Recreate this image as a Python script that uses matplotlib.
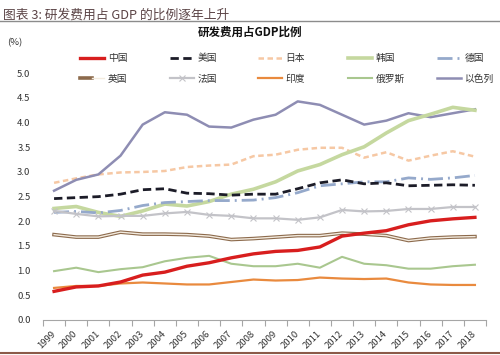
import numpy as np
import matplotlib.pyplot as plt
from matplotlib.lines import Line2D
from matplotlib.legend_handler import HandlerTuple

plt.rcParams['font.family'] = ['Noto Sans CJK SC', 'DejaVu Sans']

years = [str(y) for y in range(1999, 2019)]

china   = [0.58, 0.67, 0.69, 0.77, 0.91, 0.97, 1.09, 1.16, 1.26, 1.34,
           1.39, 1.41, 1.48, 1.70, 1.76, 1.81, 1.93, 2.01, 2.05, 2.08]
usa     = [2.46, 2.48, 2.50, 2.55, 2.64, 2.66, 2.57, 2.56, 2.53, 2.55,
           2.55, 2.66, 2.78, 2.84, 2.76, 2.78, 2.72, 2.73, 2.74, 2.73]
japan   = [2.78, 2.87, 2.95, 2.99, 3.00, 3.02, 3.10, 3.13, 3.15, 3.32,
           3.35, 3.45, 3.49, 3.49, 3.29, 3.40, 3.23, 3.33, 3.42, 3.31]
korea   = [2.26, 2.30, 2.18, 2.10, 2.21, 2.35, 2.31, 2.40, 2.55, 2.65,
           2.80, 3.02, 3.15, 3.35, 3.51, 3.79, 4.04, 4.17, 4.31, 4.25]
germany = [2.18, 2.20, 2.17, 2.22, 2.32, 2.38, 2.40, 2.42, 2.42, 2.43,
           2.48, 2.58, 2.72, 2.76, 2.80, 2.80, 2.88, 2.85, 2.88, 2.93]
uk      = [1.73, 1.68, 1.68, 1.78, 1.74, 1.74, 1.73, 1.70, 1.63, 1.65,
           1.68, 1.71, 1.71, 1.76, 1.74, 1.71, 1.61, 1.66, 1.68, 1.69]
france  = [2.21, 2.15, 2.10, 2.11, 2.11, 2.16, 2.19, 2.13, 2.11, 2.06,
           2.06, 2.03, 2.08, 2.23, 2.20, 2.21, 2.25, 2.25, 2.29, 2.29]
india   = [0.65, 0.69, 0.69, 0.74, 0.76, 0.74, 0.72, 0.72, 0.77, 0.82,
           0.80, 0.81, 0.86, 0.84, 0.83, 0.84, 0.76, 0.72, 0.71, 0.71]
russia  = [0.99, 1.06, 0.97, 1.03, 1.07, 1.19, 1.26, 1.30, 1.14, 1.09,
           1.09, 1.14, 1.06, 1.28, 1.14, 1.11, 1.04, 1.04, 1.09, 1.12]
israel  = [2.62, 2.84, 2.95, 3.33, 3.96, 4.21, 4.16, 3.92, 3.90, 4.06,
           4.16, 4.43, 4.36, 4.16, 3.96, 4.04, 4.19, 4.11, 4.19, 4.27]

fig = plt.figure(figsize=(5, 3.55), dpi=100)
ax = fig.add_axes([0.086, 0.0986, 0.886, 0.695])
x = np.arange(len(years))

h_japan, = ax.plot(x, japan, color='#F6C8A4', lw=1.8, dashes=(2.2, 1.4))
h_israel, = ax.plot(x, israel, color='#8E8DB3', lw=1.8)
h_korea, = ax.plot(x, korea, color='#C5D89F', lw=2.6)
h_germany, = ax.plot(x, germany, color='#95A9CB', lw=2.0, dashes=(5.4, 1.8, 0.7, 1.8))
h_usa, = ax.plot(x, usa, color='#1C1C28', lw=2.0, dashes=(3, 1.6))
h_france, = ax.plot(x, france, color='#C3C3C8', lw=1.6, marker='x', ms=4, mew=0.8)
h_uk1, = ax.plot(x, uk, color='#8C6A4C', lw=2.6)
h_uk2, = ax.plot(x, uk, color='#F3EBDF', lw=1.0)
h_russia, = ax.plot(x, russia, color='#A9C78F', lw=1.5)
h_india, = ax.plot(x, india, color='#E98A3E', lw=1.6)
h_china, = ax.plot(x, china, color='#D81E1E', lw=2.4)

ax.set_xlim(-0.5, len(years) - 0.5)
ax.set_ylim(0, 5)
ax.set_yticks(np.arange(0, 5.01, 0.5))
ax.set_yticklabels(['%.1f' % v for v in np.arange(0, 5.01, 0.5)])
ax.set_xticks(x)
ax.set_xticklabels(years, rotation=45, ha='right', va='center', rotation_mode='anchor')
ax.set_xticks(np.arange(-0.5, len(years)), minor=True)
ax.tick_params(axis='x', which='major', length=0, pad=9, labelsize=6.8, labelcolor='#333333')
ax.tick_params(axis='x', which='minor', length=4, color='#A6A6A6', width=0.8)
ax.tick_params(axis='y', length=0, pad=9, labelsize=6.8, labelcolor='#333333')
for s in ['top', 'right', 'left']:
    ax.spines[s].set_visible(False)
ax.spines['bottom'].set_color('#A6A6A6')
ax.spines['bottom'].set_linewidth(0.8)

fig.text(0.006, 0.975, '图表 3: 研发费用占 GDP 的比例逐年上升', fontsize=9.2,
         color='#5B4446', style='italic', va='top', ha='left')
fig.add_artist(Line2D([0, 1], [0.942, 0.942], color='#8C8C8C', lw=1.0))
fig.add_artist(Line2D([0, 1], [0.006, 0.006], color='#8C5A48', lw=1.5))
fig.text(0.5, 0.91, '研发费用占GDP比例', fontsize=8.3, fontweight='bold',
         ha='center', va='center', color='#111111')
fig.text(0.03, 0.88, '(%)', fontsize=6.8, ha='center', va='center', color='#333333')

# one small legend per column so the columns sit at even spacing
columns = [
    ([h_china, (h_uk1, h_uk2)], ['中国', '英国']),
    ([h_usa, h_france], ['美国', '法国']),
    ([h_japan, h_india], ['日本', '印度']),
    ([h_korea, h_russia], ['韩国', '俄罗斯']),
    ([h_germany, h_israel], ['德国', '以色列']),
]
col_x = [80, 170, 258, 348, 437]
for (hs, ls), cx in zip(columns, col_x):
    leg = fig.legend(hs, ls, loc='center left', bbox_to_anchor=(cx / 500, 0.807),
                     frameon=False, fontsize=7, handlelength=2.5, handletextpad=0.35,
                     labelspacing=1.1, borderpad=0, borderaxespad=0,
                     handler_map={tuple: HandlerTuple(ndivide=None, pad=0)})
    for t in leg.get_texts():
        t.set_color('#333333')

fig.savefig('out.png', dpi=100)
